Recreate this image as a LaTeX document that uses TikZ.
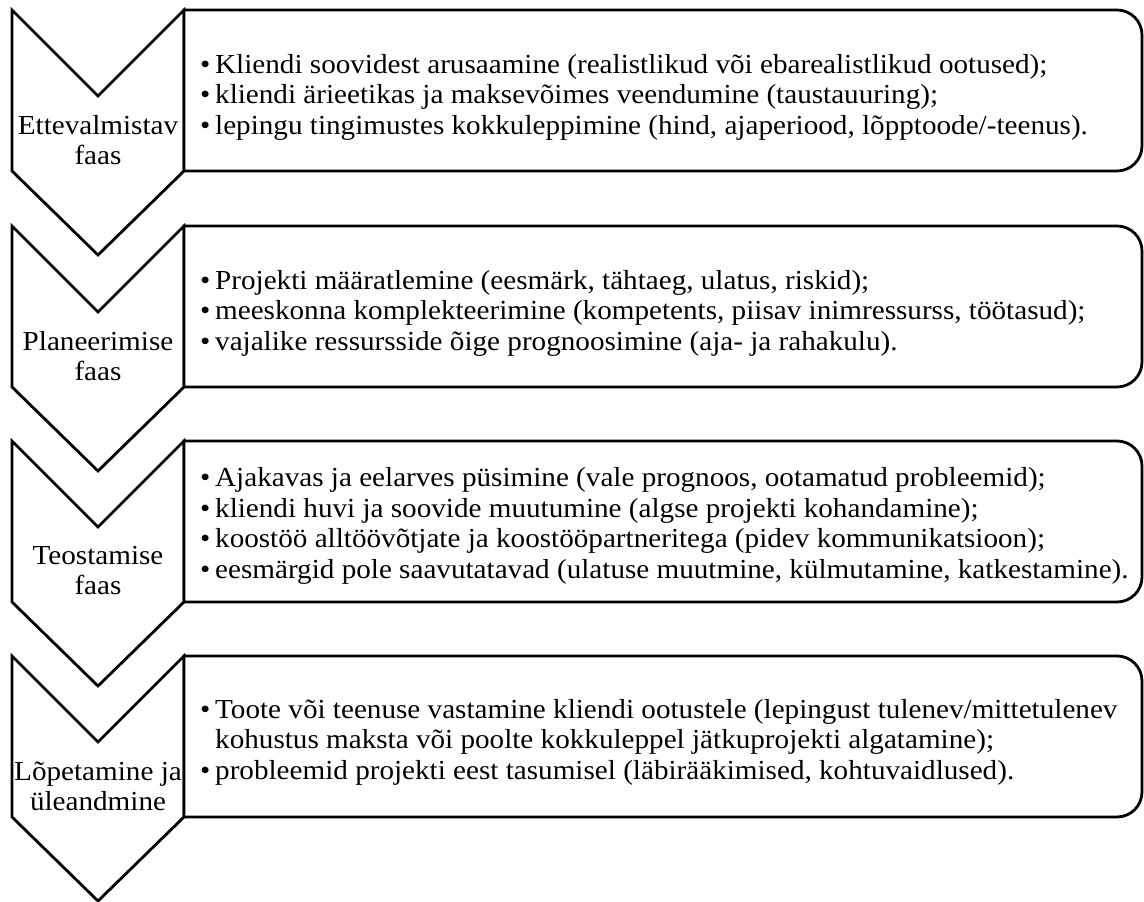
\documentclass[tikz,border=0pt]{standalone}
\usepackage{fontspec}
\setmainfont{Liberation Serif}[FakeStretch=1.06]
\newcommand\bul{\makebox[15pt][l]{•}}
\newcommand\ind{\hspace*{15pt}}
\begin{document}
\begin{tikzpicture}[x=1pt,y=1pt,
  chev/.style={draw=black,line width=2.8pt,fill=white},
  boxshape/.style={draw=black,line width=2.8pt,fill=white},
  phaselabel/.style={align=center,inner sep=0pt,font=\fontsize{27.5}{30}\selectfont},
  itemtext/.style={anchor=west,align=left,inner sep=0pt,font=\fontsize{27.5}{30.5}\selectfont}]
\useasboundingbox (0,0) rectangle (1144,902);
\foreach \t in {10,226,441,656} {
  \pgfmathsetmacro\ya{902-\t}
  \pgfmathsetmacro\yb{902-\t-86}
  \pgfmathsetmacro\yc{902-\t-161}
  \pgfmathsetmacro\yd{902-\t-245}
  \draw[chev] (12,\ya) -- (98,\yb) -- (184,\ya) -- (184,\yc) -- (98,\yd) -- (12,\yc) -- cycle;
  \draw[boxshape] (184,\ya) -- (1117,\ya) arc[start angle=90,end angle=0,radius=25pt]
     -- (1142,{\yc+25}) arc[start angle=0,end angle=-90,radius=25pt] -- (184,\yc) -- cycle;
}
% phase labels
\node[phaselabel] (p1) at (98,{902-140}) {Ettevalmistav\\faas};
\node[phaselabel] (p2) at (98,{902-356}) {Planeerimise\\faas};
\node[phaselabel] (p3) at (98,{902-571}) {Teostamise\\faas};
\node[phaselabel] (p4) at (98,{902-786}) {Lõpetamine ja\\üleandmine};
% descriptions
\node[itemtext] (d1) at (200,{902-97}) {\bul Kliendi soovidest arusaamine (realistlikud või ebarealistlikud ootused);\\
\bul kliendi ärieetikas ja maksevõimes veendumine (taustauuring);\\
\bul lepingu tingimustes kokkuleppimine (hind, ajaperiood, lõpptoode/-teenus).};
\node[itemtext] (d2) at (200,{902-313}) {\bul Projekti määratlemine (eesmärk, tähtaeg, ulatus, riskid);\\
\bul meeskonna komplekteerimine (kompetents, piisav inimressurss, töötasud);\\
\bul vajalike ressursside õige prognoosimine (aja- ja rahakulu).};
\node[itemtext] (d3) at (200,{902-526}) {\bul Ajakavas ja eelarves püsimine (vale prognoos, ootamatud probleemid);\\
\bul kliendi huvi ja soovide muutumine (algse projekti kohandamine);\\
\bul koostöö alltöövõtjate ja koostööpartneritega (pidev kommunikatsioon);\\
\bul eesmärgid pole saavutatavad (ulatuse muutmine, külmutamine, katkestamine).};
\node[itemtext] (d4) at (200,{902-742}) {\bul Toote või teenuse vastamine kliendi ootustele (lepingust tulenev/mittetulenev\\
\ind kohustus maksta või poolte kokkuleppel jätkuprojekti algatamine);\\
\bul probleemid projekti eest tasumisel (läbirääkimised, kohtuvaidlused).};
\end{tikzpicture}
\end{document}
